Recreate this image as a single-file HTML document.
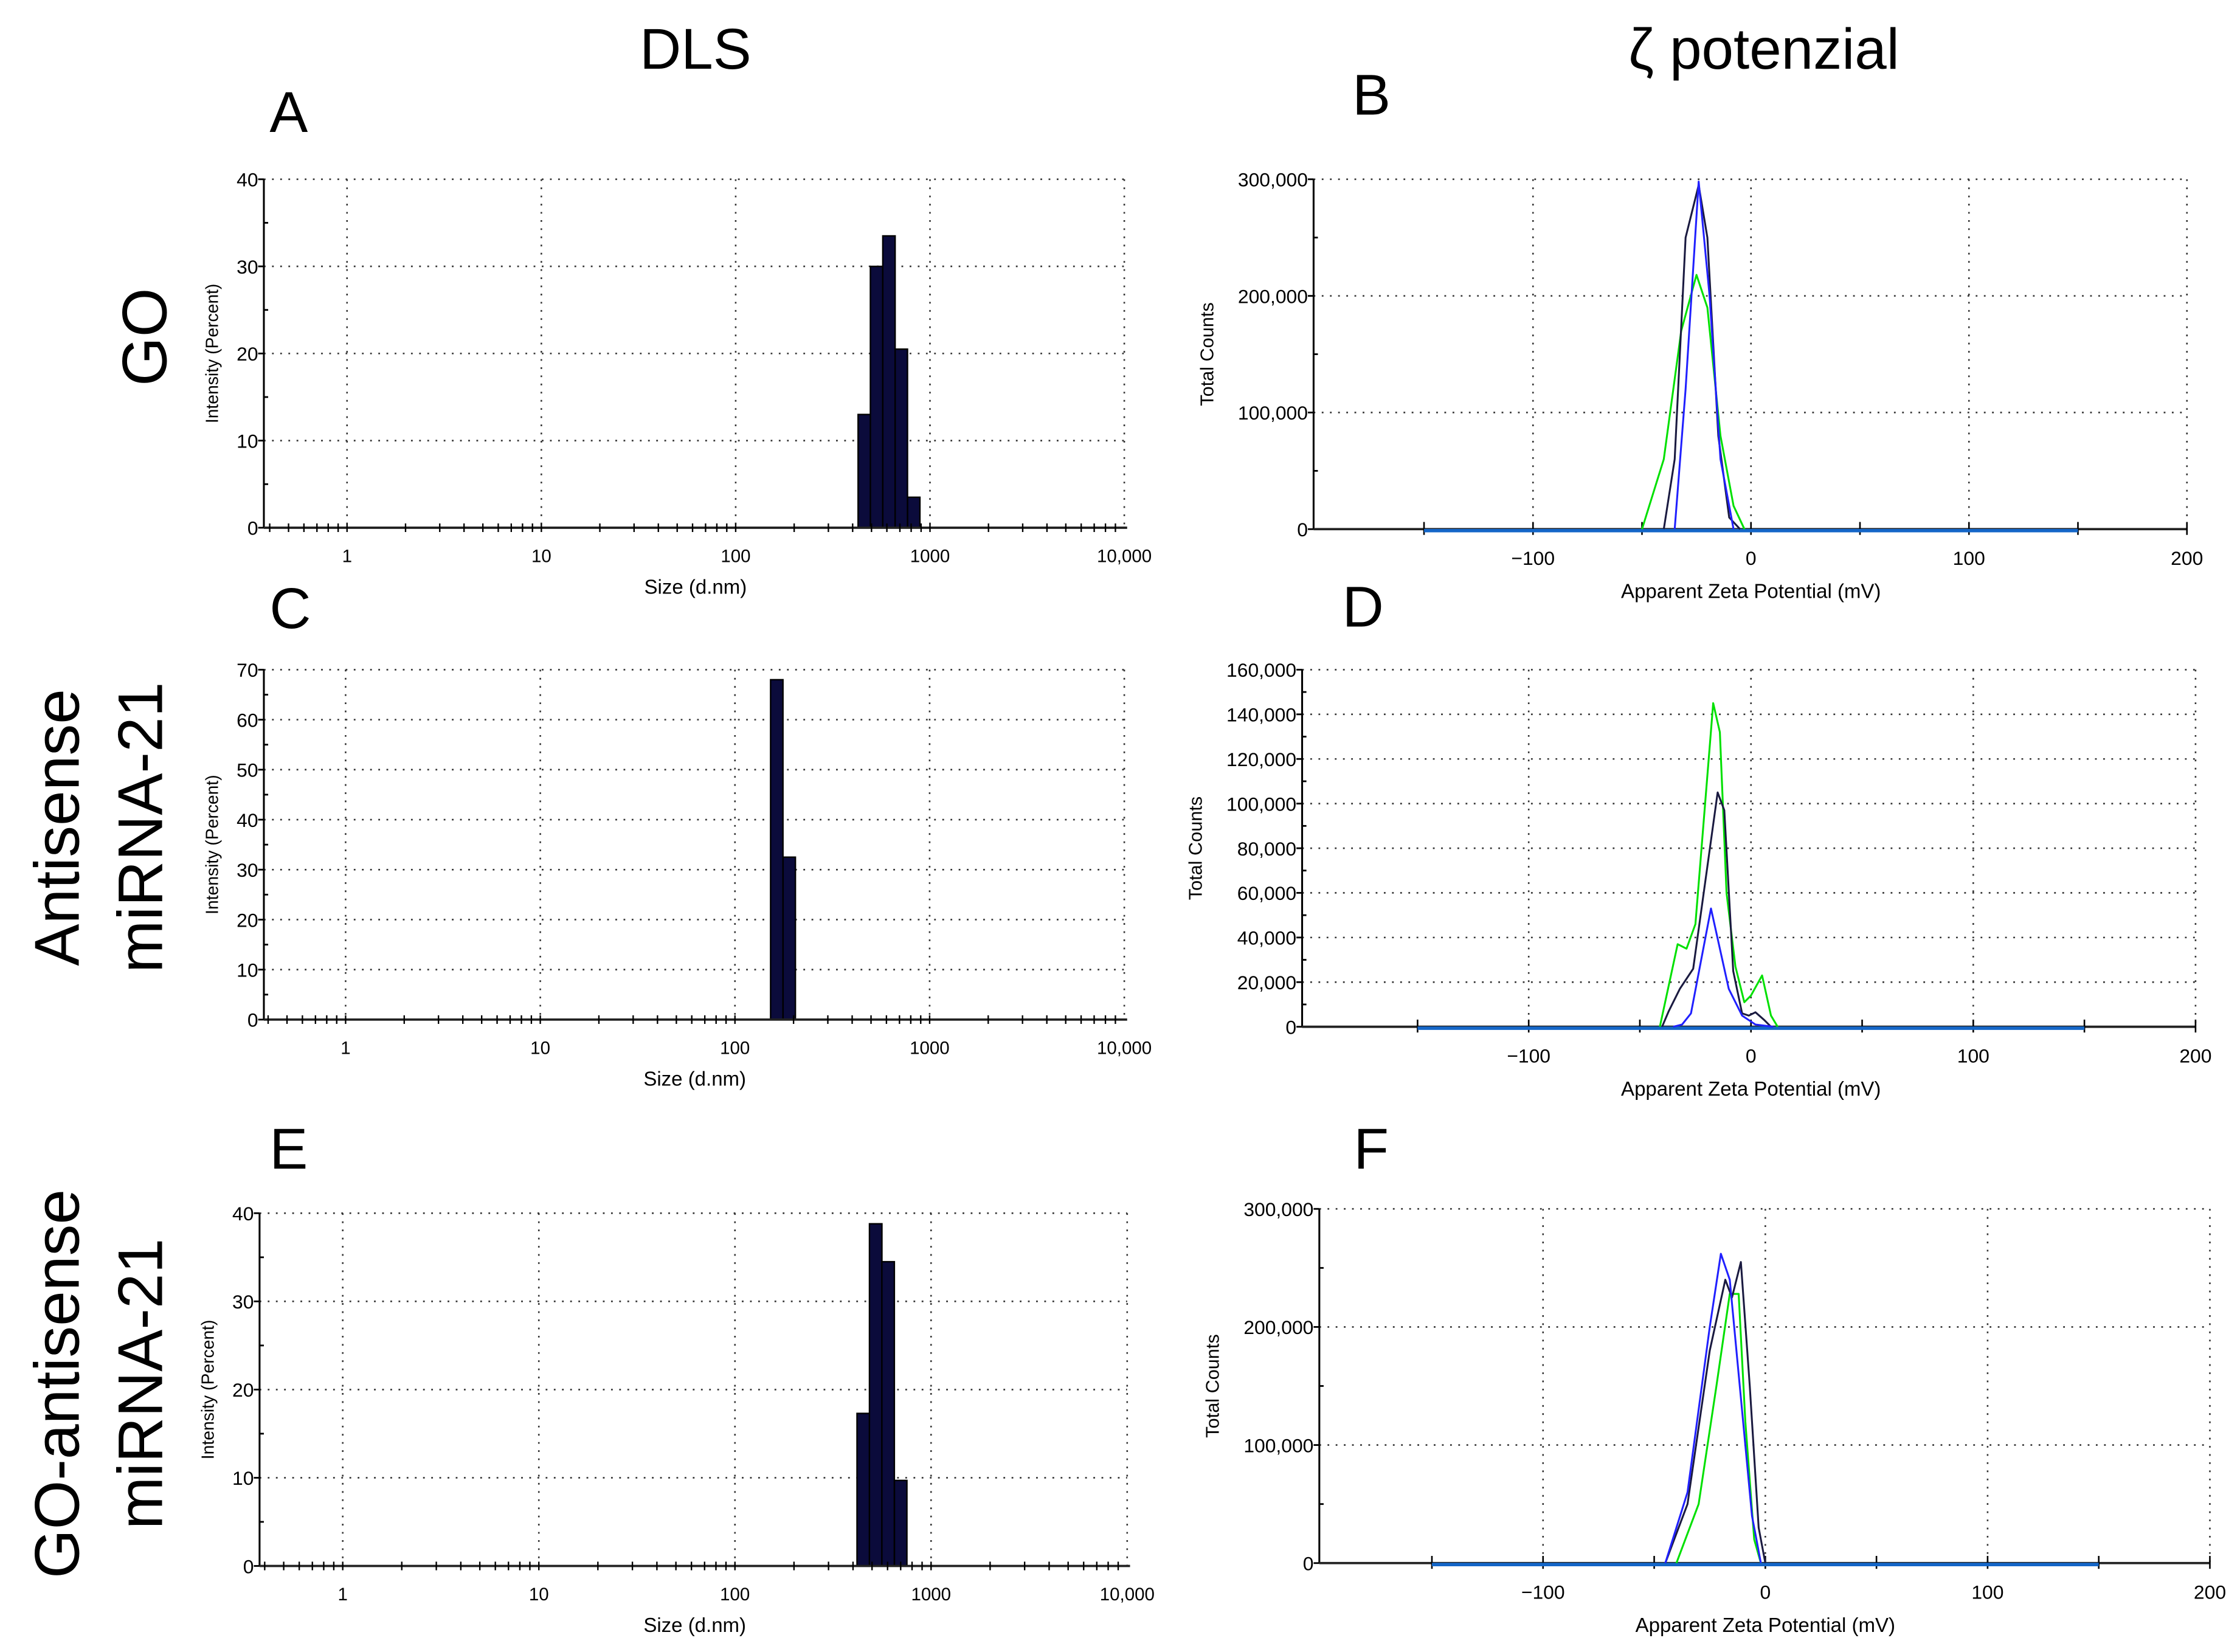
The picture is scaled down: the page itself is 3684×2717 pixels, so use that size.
<!DOCTYPE html>
<html><head><meta charset="utf-8">
<style>
html,body{margin:0;padding:0;background:#fff;}
svg{display:block;}
text{font-family:"Liberation Sans Narrow","Liberation Sans",sans-serif;fill:#000;}
.big{font-family:"Liberation Sans","DejaVu Sans",sans-serif;}
</style></head>
<body>
<svg id="fig" width="3684" height="2717" viewBox="0 0 1562 1152" preserveAspectRatio="none" xmlns="http://www.w3.org/2000/svg">
<text class="big" x="485" y="48" font-size="40" text-anchor="middle">DLS</text>
<text class="big" x="1230" y="48" font-size="40" text-anchor="middle">ζ potenzial</text>
<text class="big" transform="translate(116,235) rotate(-90)" font-size="44" text-anchor="middle">GO</text>
<text class="big" transform="translate(55,577) rotate(-90)" font-size="44" text-anchor="middle">Antisense</text>
<text class="big" transform="translate(113,577) rotate(-90)" font-size="44" text-anchor="middle">miRNA-21</text>
<text class="big" transform="translate(55,965) rotate(-90)" font-size="44" text-anchor="middle">GO-antisense</text>
<text class="big" transform="translate(113,965) rotate(-90)" font-size="44" text-anchor="middle">miRNA-21</text>
<text class="big" x="188" y="92" font-size="40">A</text>
<text class="big" x="943" y="80" font-size="40">B</text>
<text class="big" x="188" y="438" font-size="40">C</text>
<text class="big" x="936" y="437" font-size="40">D</text>
<text class="big" x="188" y="815" font-size="40">E</text>
<text class="big" x="944" y="815" font-size="40">F</text>
</svg>
<script>
// ---------- data ----------
const dlsTickLabels = ["1","10","100","1000","10,000"];
const aSizes = [459, 531, 615, 712, 825];
const aIntensity = [13, 30, 33.5, 20.5, 3.5];
const aYTicks = [0,10,20,30,40];
const cSizes = [164, 190];
const cIntensity = [68, 32.5];
const cYTicks = [0,10,20,30,40,50,60,70];
const eSizes = [451, 522, 604, 700];
const eIntensity = [17.3, 38.8, 34.5, 9.7];
const eYTicks = [0,10,20,30,40];

const zetaXTicks = [-100, 0, 100, 200];
const bYTicks = [0,100000,200000,300000];
const bBlackX = [-40,-35,-30,-24,-20,-15,-10,-5];
const bBlackY = [0,60000,250000,295000,250000,80000,10000,0];
const bBlueX = [-35,-30,-24,-19,-14,-8];
const bBlueY = [0,120000,298000,200000,60000,0];
const bGreenX = [-50,-40,-32,-25,-20,-14,-8,-3];
const bGreenY = [0,60000,170000,218000,190000,80000,20000,0];

const dYTicks = [0,20000,40000,60000,80000,100000,120000,140000,160000];
const dGreenX = [-41,-33,-29,-25,-17,-14,-11,-7,-3,0,5,9,12];
const dGreenY = [0,37000,35000,46000,145000,132000,60000,27000,11000,14000,23000,5000,0];
const dBlackX = [-40,-37,-32,-26,-15,-12,-8,-4,-1,2,6,9];
const dBlackY = [0,7000,17000,26000,105000,97000,25000,6000,5000,6500,3000,0];
const dBlueX = [-35,-31,-27,-18,-10,-4,2,10];
const dBlueY = [0,1000,6000,53000,17000,5000,1000,0];

const fYTicks = [0,100000,200000,300000];
const fBlackX = [-45,-35,-25,-18,-15,-11,-7,-3,0];
const fBlackY = [0,50000,180000,240000,225000,255000,150000,30000,0];
const fBlueX = [-45,-35,-25,-20,-16,-12,-6,-2];
const fBlueY = [0,60000,200000,262000,240000,160000,40000,0];
const fGreenX = [-40,-30,-22,-16,-12,-9,-5,-2];
const fGreenY = [0,50000,150000,228000,228000,120000,20000,0];

// ---------- drawing ----------
const NS = "http://www.w3.org/2000/svg";
const svg = document.getElementById("fig");
function mk(tag, attrs, parent){
  const e = document.createElementNS(NS, tag);
  for (const k in attrs) e.setAttribute(k, attrs[k]);
  (parent||svg).appendChild(e);
  return e;
}
function fmt(v){ return v.toLocaleString("en-US"); }

function dlsPanel(name, L, T, B, x1px, x10000px, yTicks, sizes, vals){
  const g = mk("g", {});
  
  
  const dec = (x10000px - x1px)/4;
  const xs = v => x1px + Math.log10(v)*dec;
  const R = x10000px;
  const yMax = yTicks[yTicks.length-1];
  const ys = v => B - v/yMax*(B-T);
  const dot = {stroke:"#333","stroke-width":1.1,"stroke-dasharray":"1.2 4.5"};
  for (let i=0;i<5;i++){
    const x = xs(Math.pow(10,i));
    mk("line", Object.assign({x1:x,x2:x,y1:T,y2:B},dot), g);
    const t = mk("text",{x:x,y:B+24,"font-size":12.5,"text-anchor":"middle"},g);
    t.textContent = dlsTickLabels[i];
    
    
  }
  yTicks.forEach((v,i)=>{
    const y = ys(v);
    if (v>0) mk("line", Object.assign({x1:L,x2:R,y1:y,y2:y},dot), g);
    mk("line",{x1:L-4,x2:L,y1:y,y2:y,stroke:"#000","stroke-width":1.2},g);
    const t = mk("text",{x:L-4,y:y+5,"font-size":13.5,"text-anchor":"end"},g);
    t.textContent = v;
    
    
    if (i<yTicks.length-1){
      const ym = ys((v+yTicks[i+1])/2);
      mk("line",{x1:L,x2:L+3,y1:ym,y2:ym,stroke:"#000","stroke-width":1.2},g);
    }
  });
  const w = dec*0.0637;
  sizes.forEach((s,i)=>{
    const xc = xs(s);
    const r = mk("rect",{x:xc-w/2,y:ys(vals[i]),width:w,height:B-ys(vals[i]),fill:"#0b0b3b",stroke:"#000","stroke-width":1},g);
    
    
  });
  mk("line",{x1:L,x2:L,y1:T,y2:B,stroke:"#000","stroke-width":1.3},g);
  mk("line",{x1:L,x2:R+2,y1:B,y2:B,stroke:"#222","stroke-width":1.6},g);
  for (let d=-1; d<4; d++){
    for (let m=1;m<10;m++){
      const v = m*Math.pow(10,d);
      const x = xs(v);
      if (x<L || x>R+1) continue;
      mk("line",{x1:x,x2:x,y1:B-3,y2:B+3,stroke:"#000","stroke-width":1},g);
    }
  }
  const yt = mk("text",{transform:`translate(${L-32},${(T+B)/2}) rotate(-90)`,"font-size":12,"text-anchor":"middle",style:'font-family:"Liberation Sans",sans-serif'},g);
  yt.textContent = "Intensity (Percent)";
  
  
  const xt = mk("text",{x:(xs(10)+xs(1000))/2-28,y:B+46,"font-size":14,"text-anchor":"middle"},g);
  xt.textContent = "Size (d.nm)";
  
  
}

function zetaPanel(name, L, T, B, x0, x100, yTicks, series){
  const g = mk("g", {});
  
  
  const per = (x100 - x0)/100;
  const xs = v => x0 + v*per;
  const R = xs(200);
  const yMax = yTicks[yTicks.length-1];
  const ys = v => B - v/yMax*(B-T);
  const dot = {stroke:"#333","stroke-width":1.1,"stroke-dasharray":"1.2 4.5"};
  [-100,0,100,200].forEach(v=>{
    const x = xs(v);
    mk("line", Object.assign({x1:x,x2:x,y1:T,y2:B},dot), g);
  });
  zetaXTicks.forEach(v=>{
    const t = mk("text",{x:xs(v),y:B+25,"font-size":13.5,"text-anchor":"middle"},g);
    t.textContent = v<0 ? "\u2212"+Math.abs(v) : String(v);
    
    
  });
  yTicks.forEach((v,i)=>{
    const y = ys(v);
    if (v>0) mk("line", Object.assign({x1:L,x2:R,y1:y,y2:y},dot), g);
    mk("line",{x1:L-4,x2:L,y1:y,y2:y,stroke:"#000","stroke-width":1.2},g);
    const t = mk("text",{x:L-4,y:y+5,"font-size":13.5,"text-anchor":"end"},g);
    t.textContent = fmt(v);
    
    
    if (i<yTicks.length-1){
      const ym = ys((v+yTicks[i+1])/2);
      mk("line",{x1:L,x2:L+3,y1:ym,y2:ym,stroke:"#000","stroke-width":1.2},g);
    }
  });
  mk("line",{x1:L,x2:L,y1:T,y2:B,stroke:"#000","stroke-width":1.3},g);
  mk("line",{x1:L,x2:R,y1:B,y2:B,stroke:"#222","stroke-width":1.6},g);
  for (let v=-150; v<=200; v+=50){
    mk("line",{x1:xs(v),x2:xs(v),y1:B-5,y2:B+4,stroke:"#000","stroke-width":1.1},g);
  }
  const bl = mk("line",{x1:xs(-150),x2:xs(150),y1:B+1,y2:B+1,stroke:"#1466c8","stroke-width":2.4},g);
  
  
  series.forEach(s=>{
    const pts = s.x.map((xv,i)=>xs(xv).toFixed(2)+","+ys(s.y[i]).toFixed(2)).join(" ");
    const p = mk("polyline",{points:pts,fill:"none",stroke:s.color,"stroke-width":1.3,"stroke-linejoin":"round"},g);
    
    
  });
  const yt = mk("text",{transform:`translate(${L-70},${(T+B)/2}) rotate(-90)`,"font-size":13,"text-anchor":"middle",style:'font-family:"Liberation Sans",sans-serif'},g);
  yt.textContent = "Total Counts";
  
  
  const xt = mk("text",{x:x0,y:B+48,"font-size":14,"text-anchor":"middle"},g);
  xt.textContent = "Apparent Zeta Potential (mV)";
  
  
}

dlsPanel("dls-chart-go", 184, 125, 368, 242, 784, aYTicks, aSizes, aIntensity);
dlsPanel("dls-chart-antisense", 184, 467, 711, 241, 784, cYTicks, cSizes, cIntensity);
dlsPanel("dls-chart-go-antisense", 181, 846, 1092, 239, 786, eYTicks, eSizes, eIntensity);

zetaPanel("zeta-chart-go", 916, 125, 369, 1221, 1373, bYTicks, [
  {name:"green-run", x:bGreenX, y:bGreenY, color:"#00e000"},
  {name:"black-run", x:bBlackX, y:bBlackY, color:"#1a1a40"},
  {name:"blue-run", x:bBlueX, y:bBlueY, color:"#2020ff"}]);
zetaPanel("zeta-chart-antisense", 908, 467, 716, 1221, 1376, dYTicks, [
  {name:"green-run", x:dGreenX, y:dGreenY, color:"#00e000"},
  {name:"black-run", x:dBlackX, y:dBlackY, color:"#1a1a40"},
  {name:"blue-run", x:dBlueX, y:dBlueY, color:"#2020ff"}]);
zetaPanel("zeta-chart-go-antisense", 920, 843, 1090, 1231, 1386, fYTicks, [
  {name:"green-run", x:fGreenX, y:fGreenY, color:"#00e000"},
  {name:"black-run", x:fBlackX, y:fBlackY, color:"#1a1a40"},
  {name:"blue-run", x:fBlueX, y:fBlueY, color:"#2020ff"}]);
</script>
</body></html>
